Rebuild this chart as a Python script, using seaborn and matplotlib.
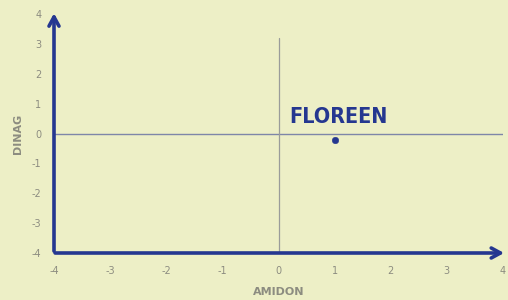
import matplotlib
matplotlib.use("Agg")
import matplotlib.pyplot as plt
import seaborn as sns
import pandas as pd

names = ["FLOREEN"]
amidon = [1.0]
dinag = [-0.22]
ticks = [-4, -3, -2, -1, 0, 1, 2, 3, 4]

bg = "#EDEFC6"
navy = "#253790"
gray = "#8C8C80"

sns.set_theme(style="white")
plt.rcParams['font.family'] = ['DejaVu Sans']

fig = plt.figure(figsize=(5.08, 3.0), dpi=100, facecolor=bg)
ax = fig.add_axes([54/508, 47/300, 449/508, 239/300])
ax.set_facecolor(bg)

df = pd.DataFrame({"AMIDON": amidon, "DINAG": dinag, "name": names})

# reference lines
ax.plot([-4, 4], [0, 0], color="#7E86A8", lw=1.0, zorder=1)
ax.plot([0, 0], [-4, 3.2], color="#9A9C9A", lw=0.9, zorder=1)

sns.scatterplot(data=df, x="AMIDON", y="DINAG", ax=ax, color=navy, s=22,
                edgecolor=navy, legend=False, zorder=3)
for _, r in df.iterrows():
    ax.text(r["AMIDON"] - 0.8, r["DINAG"] + 0.77, r["name"], color=navy,
            fontsize=15.5, fontweight="bold", family="DejaVu Sans",
            ha="left", va="center", stretch="condensed")

ax.set_xlim(-4, 4)
ax.set_ylim(-4, 4)
ax.set_xticks(ticks)
ax.set_yticks(ticks)
ax.set_xticklabels([str(t) for t in ticks])
ax.set_yticklabels([str(t) for t in ticks])
ax.tick_params(axis="x", length=0, labelsize=7, colors=gray, pad=9)
ax.tick_params(axis="y", length=0, labelsize=7, colors=gray, pad=9)
for s in ax.spines.values():
    s.set_visible(False)

# arrow axes
ax.annotate("", xy=(-4, 4.12), xytext=(-4, -4.03),
            arrowprops=dict(arrowstyle="->,head_length=0.55,head_width=0.3", color=navy, lw=2.6),
            annotation_clip=False)
ax.annotate("", xy=(4.07, -4), xytext=(-4.03, -4),
            arrowprops=dict(arrowstyle="->,head_length=0.55,head_width=0.3", color=navy, lw=2.6),
            annotation_clip=False)

ax.set_xlabel("AMIDON", fontsize=8, fontweight="bold", color=gray, labelpad=8)
ax.set_ylabel("DINAG", fontsize=8, fontweight="bold", color=gray, labelpad=6)

fig.savefig("out.png", dpi=100, facecolor=bg)
